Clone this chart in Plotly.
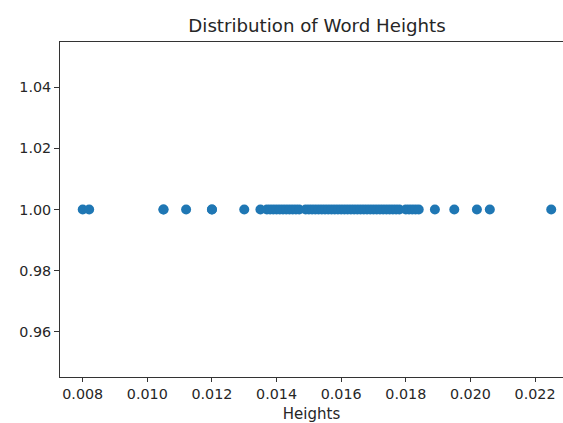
import plotly.graph_objects as go

heights = [
    0.0080, 0.0082, 0.0105, 0.0105, 0.0112, 0.0120, 0.0120, 0.0130, 0.0135,
    0.0137, 0.0138, 0.0139, 0.0140, 0.0141, 0.0142, 0.0143, 0.0144, 0.0145,
    0.0146, 0.0147, 0.0149, 0.0150, 0.0151, 0.0152, 0.0153, 0.0154, 0.0155,
    0.0156, 0.0157, 0.0158, 0.0159, 0.0160, 0.0161, 0.0162, 0.0163, 0.0164,
    0.0165, 0.0166, 0.0167, 0.0168, 0.0169, 0.0170, 0.0171, 0.0172, 0.0173,
    0.0174, 0.0175, 0.0176, 0.0177, 0.0178, 0.0180, 0.0181, 0.0182, 0.0183,
    0.0184, 0.0189, 0.0195, 0.0202, 0.0206, 0.0225,
]
levels = [1.0] * len(heights)

x_ticks = [0.008, 0.010, 0.012, 0.014, 0.016, 0.018, 0.020, 0.022]
x_tick_labels = ["0.008", "0.010", "0.012", "0.014", "0.016", "0.018", "0.020", "0.022"]
y_ticks = [0.96, 0.98, 1.00, 1.02, 1.04]
y_tick_labels = ["0.96", "0.98", "1.00", "1.02", "1.04"]

fig = go.Figure(
    go.Scatter(
        x=heights, y=levels, mode="markers",
        marker=dict(color="#1f77b4", size=10, line=dict(width=0)),
        cliponaxis=False,
    )
)

font = "DejaVu Sans, sans-serif"
fig.update_layout(
    width=563, height=423,
    margin=dict(l=60, r=0, t=42, b=46),
    paper_bgcolor="white", plot_bgcolor="white",
    showlegend=False,
    font=dict(family=font, color="#262626", size=14.3),
    title=dict(text="Distribution of Word Heights", x=317 / 563, xref="container",
               xanchor="center", y=1 - 26 / 423, yref="container", yanchor="middle",
               font=dict(size=18.2, family=font, color="#262626")),
)
fig.update_xaxes(
    range=[0.007297, 0.022865], tickvals=x_ticks, ticktext=x_tick_labels,
    showgrid=False, zeroline=False, showline=True, linecolor="#333333", linewidth=1,
    mirror=True, ticks="outside", ticklen=4, tickcolor="#333333",
    title=dict(text="Heights", standoff=8, font=dict(size=15)),
)
fig.update_yaxes(
    range=[0.9452, 1.0548], tickvals=y_ticks, ticktext=y_tick_labels,
    showgrid=False, zeroline=False, showline=True, linecolor="#333333", linewidth=1,
    ticks="outside", ticklen=5, tickcolor="#333333",
)

fig.write_html(
    "out.html",
    config={"displayModeBar": False},
    post_script="document.body.style.margin='0';document.body.style.overflow='hidden';",
)
